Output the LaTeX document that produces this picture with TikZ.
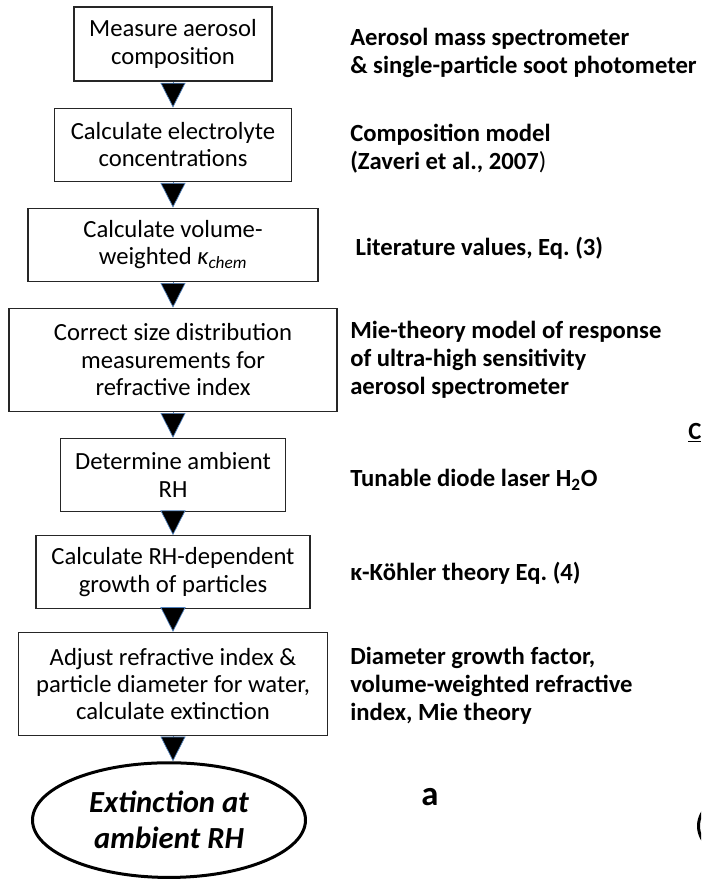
\documentclass[tikz,border=0pt]{standalone}
\usepackage{fontspec}
\setmainfont{Carlito}
\usetikzlibrary{positioning,arrows.meta,shapes.geometric}
\definecolor{tipblue}{RGB}{79,129,189}
\frenchspacing
\begin{document}
\begin{tikzpicture}[x=0.75pt,y=-0.75pt,node distance=19.5pt,inner sep=0pt,font=\fontsize{18.5}{20.5}\selectfont]
\tikzstyle{stepbox}=[rectangle, draw=black!85, line width=0.8pt, align=center, fill=white]
\tikzstyle{note}=[anchor=west, align=left, font=\fontsize{18.5}{21}\selectfont\bfseries]
\tikzstyle{down}=[draw=tipblue, line width=0.5pt, -{Triangle[length=18.5pt,width=18.75pt,fill=black]}]
\tikzstyle{final}=[ellipse, draw=black, line width=2.25pt, minimum width=204.75pt, minimum height=86pt, align=center]
\useasboundingbox (0,0) rectangle (701,894);
\clip (0,0) rectangle (701,894);
\node[stepbox, minimum width=148.5pt, minimum height=55.5pt] (meas) at (173,44) {Measure aerosol\\composition};
\node[stepbox, minimum width=177.75pt, minimum height=54.75pt] (elec) [below=of meas] {Calculate electrolyte\\concentrations};
\node[stepbox, minimum width=217.5pt, minimum height=54.75pt] (kapp) [below=of elec] {Calculate volume-\\weighted {\itshape κ\textsubscript{chem}}};
\node[stepbox, minimum width=246pt, minimum height=77.25pt] (size) [below=of kapp] {Correct size distribution\\measurements for\\refractive index};
\node[stepbox, minimum width=168.75pt, minimum height=54.75pt] (rh) [below=of size] {Determine ambient\\RH};
\node[stepbox, minimum width=205.5pt, minimum height=54.75pt] (grow) [below=17.5pt of rh] {Calculate RH-dependent\\growth of particles};
\node[stepbox, minimum width=231.75pt, minimum height=77.25pt] (adj) [below=17pt of grow] {Adjust refractive index \&\\particle diameter for water,\\calculate extinction};
\node[final, font=\fontsize{23}{27}\selectfont\bfseries\itshape] (ext) [below=19pt of adj, xshift=-3pt] {Extinction at\\ambient RH};
\path (meas) edge[down] (elec);
\path (elec) edge[down] (kapp);
\path (kapp) edge[down] (size);
\path (size) edge[down] (rh);
\path (rh) edge[down] (grow);
\path (grow) edge[down] (adj);
\path (adj.south) edge[down] (adj.south |- ext.north);
\coordinate (col) at (350,0);
\node[note, yshift=-6.75pt] (ams) at (col |- meas) {Aerosol mass spectrometer\\\& single-particle soot photometer};
\node[note, yshift=-3pt] (zav) at (col |- elec) {Composition model\\(Zaveri et al., 2007{\mdseries )}};
\node[note, yshift=-3pt, xshift=4pt] (lit) at (col |- kapp) {Literature values, Eq. (3)};
\node[note] (mie) at (col |- size) {Mie-theory model of response\\of ultra-high sensitivity\\aerosol spectrometer};
\node[note, yshift=-3.75pt] (tdl) at (col |- rh) {Tunable diode laser H\textsubscript{2}O};
\node[note, yshift=-0.5pt] (kohl) at (col |- grow) {κ-Köhler theory Eq. (4)};
\node[note, yshift=-1.5pt] (dia) at (col |- adj) {Diameter growth factor,\\volume-weighted refractive\\index, Mie theory};
\node[font=\fontsize{26}{30}\selectfont\bfseries] (lbla) at (430,797) {a};
\node[note] (cut) at (688,433) {\underline{C}};
\node[final] (extb) at (835,826) {};
\end{tikzpicture}
\end{document}
